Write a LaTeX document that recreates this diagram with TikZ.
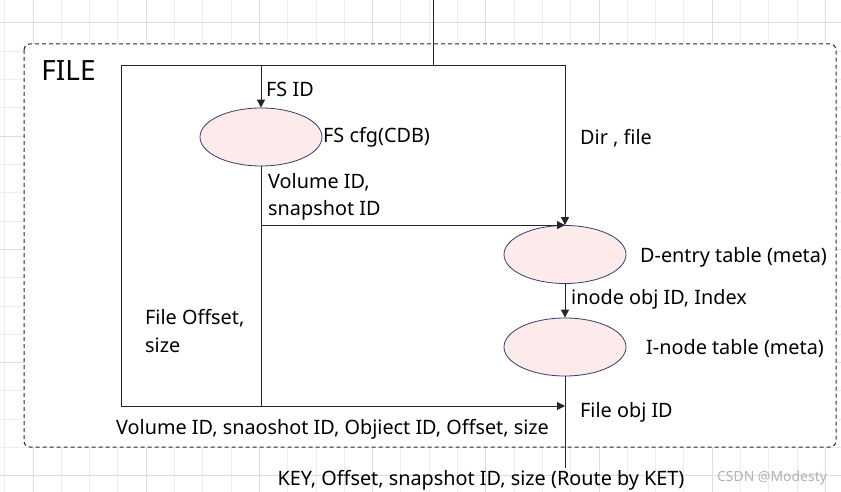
\documentclass[tikz,border=0pt]{standalone}
\usepackage{fontspec}
\setmainfont{Noto Sans}
\usetikzlibrary{arrows.meta,shapes.geometric}
\definecolor{framenavy}{HTML}{1F2550}
\definecolor{cellpink}{HTML}{FDEBEB}
\definecolor{edgenavy}{HTML}{3B3B6B}

\begin{document}
\begin{tikzpicture}[x=1bp,y=1bp,
 every node/.style={font=\fontsize{19.9}{27.5}\selectfont,align=left,inner sep=0pt},
 store/.style={ellipse,draw=edgenavy,fill=cellpink,line width=.8bp,minimum width=122bp,minimum height=58bp},
 frame/.style={draw=framenavy,dash pattern=on 4bp off 3bp,rounded corners=6bp,fill=white,line width=1bp},
 flow/.style={-{Triangle[length=8bp,width=8bp]},line width=1bp,draw=black!85},
 wire/.style={line width=1bp,draw=black!85},
 lab/.style={anchor=west}]

\useasboundingbox (0,0) rectangle (841,-492);
\fill[white] (0,0) rectangle (841,-492);
% grid behind the frame
\foreach \i in {0,...,29} \draw[black!7,line width=1bp] (4.7+28.3*\i,0) -- (4.7+28.3*\i,-492);
\foreach \j in {0,...,18} \draw[black!7,line width=1bp] (0,5.3-28.3*\j) -- (841,5.3-28.3*\j);
\foreach \i in {1,5,...,29} \draw[black!13,line width=1bp] (4.7+28.3*\i,0) -- (4.7+28.3*\i,-492);
\foreach \j in {1,5,...,17} \draw[black!13,line width=1bp] (0,5.3-28.3*\j) -- (841,5.3-28.3*\j);

\draw[frame] (24,-44) rectangle (836,-447);
\node[font=\fontsize{28}{30}\selectfont] (title) at (68.5,-71) {FILE};

\node[store] (fscfg) at (261,-137) {};
\node[store] (dentry) at (565,-254.5) {};
\node[store] (inode) at (565,-347) {};

\coordinate (src) at (433,0);
\coordinate (tl) at (121,-66);
\coordinate (tr) at (565,-66);
\coordinate (bl) at (121,-406);
\coordinate (bm) at (261,-406);
\coordinate (sink) at (565,-468);

\draw[wire] (src) -- (src |- tl);
\draw[flow] (bl) -- (tl) -- (tr) -- (dentry.north);
\draw[flow] (fscfg.north |- tl) -- (fscfg.north);
\draw[wire] (fscfg.south) -- (bm) -- (bl);
\draw[flow] (fscfg.south |- dentry.north) -- (dentry.north);
\draw[flow] (dentry) -- (inode);
\draw[flow] (bm) -- (bm -| inode.south);
\draw[wire] (inode.south) -- (sink);

\node[lab] (fsid) at (266,-89) {FS ID};
\node[lab] (cfglab) at (323,-137) {FS cfg(CDB)};
\node[lab] (dirlab) at (580,-138) {Dir , file};
\node[lab] (vollab) at (268,-197) {Volume ID,\\snapshot ID};
\node[lab] (offlab) at (145,-331) {File Offset,\\size};
\node[lab] (dentlab) at (640,-257) {D-entry table (meta)};
\node[lab] (idxlab) at (571,-299) {inode obj ID, Index};
\node[lab] (inodelab) at (646,-349) {I-node table (meta)};
\node[lab] (fobjlab) at (580,-412) {File obj ID};
\node[lab] (keylab) at (116,-429) {Volume ID, snaoshot ID, Objiect ID, Offset, size};
\node (routelab) at (481,-480) {KEY, Offset, snapshot ID, size (Route by KET)};
\node[font=\fontsize{14}{16}\selectfont,text=black!30] (mark) at (772,-478) {CSDN @Modesty};
\end{tikzpicture}
\end{document}
